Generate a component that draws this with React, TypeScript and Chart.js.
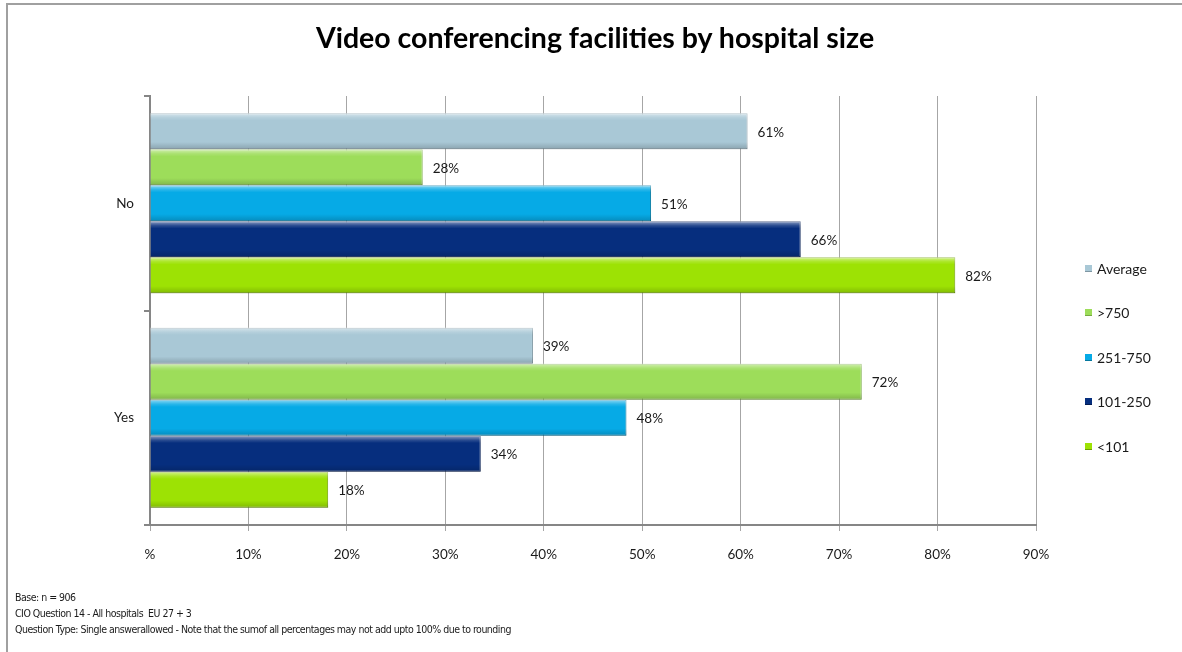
import React, { useEffect, useRef } from "react";
import { Chart, registerables } from "chart.js";

Chart.register(...registerables);

const titleText = "Video conferencing facilities by hospital size";
const categories = ["No", "Yes"];
const seriesNames = ["Average", ">750", "251-750", "101-250", "<101"];
const averageValues = [60.7, 38.9];
const over750Values = [27.7, 72.3];
const mid251to750Values = [50.9, 48.4];
const small101to250Values = [66.1, 33.6];
const under101Values = [81.8, 18.1];
const xTickLabels = ["%", "10%", "20%", "30%", "40%", "50%", "60%", "70%", "80%", "90%"];
const footerLines = [
  "Base: n = 906",
  "CIO Question 14 - All hospitals  EU 27 + 3",
  "Question Type: Single answerallowed - Note that the sumof all percentages may not add upto 100% due to rounding",
];

const seriesValues = [averageValues, over750Values, mid251to750Values, small101to250Values, under101Values];
const fillColors = ["#a9c8d6", "#9ddd5a", "#06aae6", "#062e7e", "#9de204"];
const edgeColors = ["#7f97a3", "#77a843", "#05789f", "#031c52", "#6f9f02"];

const FONT = "Lato, 'Open Sans', sans-serif";

const barGloss = {
  id: "barGloss",
  afterDatasetsDraw(chart: any) {
    const ctx = chart.ctx;
    chart.data.datasets.forEach((ds: any, di: number) => {
      const meta = chart.getDatasetMeta(di);
      meta.data.forEach((bar: any, i: number) => {
        const { x, y, base, height } = bar.getProps(["x", "y", "base", "height"], true);
        const top = y - height / 2;
        const left = Math.min(base, x);
        const w = Math.abs(x - base);
        const g = ctx.createLinearGradient(0, top, 0, top + height);
        g.addColorStop(0, "rgba(255,255,255,0.55)");
        g.addColorStop(0.12, "rgba(255,255,255,0.15)");
        g.addColorStop(0.2, "rgba(255,255,255,0)");
        g.addColorStop(0.8, "rgba(0,0,0,0)");
        g.addColorStop(1, "rgba(0,0,0,0.18)");
        ctx.save();
        ctx.fillStyle = g;
        ctx.fillRect(left, top, w, height);
        ctx.restore();
        ctx.save();
        ctx.font = `13.5px ${FONT}`;
        ctx.fillStyle = "#1a1a1a";
        ctx.textBaseline = "middle";
        ctx.textAlign = "left";
        ctx.fillText(`${Math.round(ds.data[i])}%`, x + 10, y + 1);
        ctx.restore();
      });
    });
  },
};

export default function App() {
  const canvasRef = useRef<HTMLCanvasElement | null>(null);

  useEffect(() => {
    document.body.style.margin = "0";
    const canvas = canvasRef.current;
    if (!canvas) return;
    const chart = new Chart(canvas, {
      type: "bar",
      data: {
        labels: categories,
        datasets: seriesNames.map((name, i) => ({
          label: name,
          data: seriesValues[i],
          backgroundColor: fillColors[i],
          borderColor: edgeColors[i],
          borderWidth: 1,
          borderSkipped: "start",
          categoryPercentage: 0.84,
          barPercentage: 1,
        })),
      },
      plugins: [barGloss],
      options: {
        indexAxis: "y",
        animation: false,
        responsive: false,
        devicePixelRatio: 1,
        layout: { padding: { left: 0, top: 96, right: 146, bottom: 87 } },
        plugins: {
          legend: { display: false },
          title: { display: false },
          tooltip: { enabled: false },
        },
        scales: {
          x: {
            min: 0,
            max: 90,
            ticks: {
              stepSize: 10,
              padding: 16,
              color: "#1a1a1a",
              font: { family: FONT, size: 13.5 },
              callback: (_v: any, idx: number) => xTickLabels[idx],
            },
            grid: { color: "#a6a6a6", lineWidth: 1, tickLength: 6, drawTicks: true },
            border: { color: "#868686", width: 2 },
            afterFit: (s: any) => {
              s.height = 40;
            },
          },
          y: {
            offset: true,
            ticks: {
              padding: 10,
              color: "#1a1a1a",
              font: { family: FONT, size: 13.5 },
            },
            grid: { drawOnChartArea: false, offset: true, tickLength: 6, color: "#868686", lineWidth: 2 },
            border: { color: "#868686", width: 2 },
            afterFit: (s: any) => {
              s.width = 150;
            },
          },
        },
      },
    });
    return () => chart.destroy();
  }, []);

  return (
    <div style={{ position: "absolute", left: 0, top: 0, width: 1182, height: 652, background: "#fff", overflow: "hidden", fontFamily: FONT }}>
      <div style={{ position: "absolute", left: 6, top: 3, right: 0, height: 2, background: "#a0a0a0" }} />
      <div style={{ position: "absolute", left: 6, top: 3, width: 2, bottom: 0, background: "#a0a0a0" }} />
      <canvas ref={canvasRef} width={1182} height={652} style={{ position: "absolute", left: 0, top: 0 }} />
      <div style={{ position: "absolute", left: 0, width: 1190, top: 19, textAlign: "center", fontSize: 28.5, fontWeight: 700, color: "#000", lineHeight: "36px" }}>
        {titleText}
      </div>
      <div style={{ position: "absolute", left: 1085, top: 246 }}>
        {seriesNames.map((name, i) => (
          <div key={name} style={{ height: 44.5, display: "flex", alignItems: "center", fontSize: 14, color: "#1a1a1a" }}>
            <span style={{ display: "inline-block", width: 7, height: 7, marginRight: 5, background: fillColors[i], boxShadow: `inset 0 -1px 0 ${edgeColors[i]}` }} />
            {name}
          </div>
        ))}
      </div>
      <div style={{ position: "absolute", left: 15, top: 589, fontSize: 10.5, letterSpacing: "-0.5px", lineHeight: "16px", color: "#1a1a1a", fontFamily: "'Liberation Sans Narrow', 'DejaVu Sans Condensed', sans-serif", whiteSpace: "pre" }}>
        {footerLines.map((l) => (
          <div key={l}>{l}</div>
        ))}
      </div>
    </div>
  );
}
